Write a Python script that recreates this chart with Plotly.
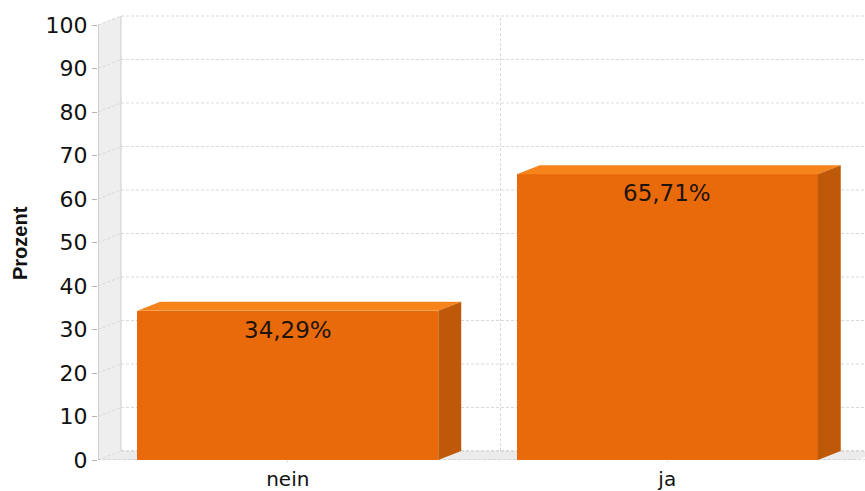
import plotly.graph_objects as go

# Survey result: share of answers per option (percent)
categories = ["nein", "ja"]
values = [34.29, 65.71]
value_labels = ["34,29%", "65,71%"]
y_ticks = [0, 10, 20, 30, 40, 50, 60, 70, 80, 90, 100]

# Pseudo-3D styling
FRONT = "#E96A0B"
TOP = "#F7831B"
SIDE = "#BE5908"
WALL = "#EEEEEE"
EDGE = "#B4B4B4"
GRID = "#D9D9D9"
DX = 0.0606      # depth offset along x (category units)
DY = 2.07        # depth offset along y (percent units)
BAR_W = 0.793
X_MIN, X_MAX = -0.5, 1.521
Y_MAX = 103.45

FONT = "DejaVu Sans"

fig = go.Figure()

shapes = []


def poly(pts, fill, layer):
    d = "M " + " L ".join(f"{x},{y}" for x, y in pts) + " Z"
    shapes.append(dict(type="path", path=d, xref="x", yref="y", fillcolor=fill,
                       line=dict(color=fill, width=0), layer=layer))


def seg(x0, y0, x1, y1, color, dash="solid", width=1, layer="below"):
    shapes.append(dict(type="line", x0=x0, y0=y0, x1=x1, y1=y1, xref="x", yref="y",
                       line=dict(color=color, width=width, dash=dash), layer=layer))


# left side wall and floor
poly([(X_MIN, 0), (X_MIN, y_ticks[-1]), (X_MIN + DX, y_ticks[-1] + DY), (X_MIN + DX, DY)], WALL, "below")
poly([(X_MIN, 0), (1.5, 0), (1.5 + DX, DY), (X_MIN + DX, DY)], "#ECECEC", "below")

# gridlines on the back wall and diagonal guides on the side wall
for v in y_ticks:
    seg(X_MIN + DX, v + DY, X_MAX + 0.1, v + DY, GRID, dash="3px,2px")
    seg(X_MIN, v, X_MIN + DX, v + DY, GRID, dash="3px,2px")
for k in range(1, len(categories)):
    seg(k - 0.5 + DX, DY, k - 0.5 + DX, y_ticks[-1] + DY, GRID, dash="3px,2px")

# wall edges
seg(X_MIN + DX, DY, X_MIN + DX, y_ticks[-1] + DY, "#CFCFCF")
seg(X_MIN, 0, X_MIN, y_ticks[-1], EDGE)
seg(X_MIN, 0, X_MAX + 0.1, 0, "#BDBDBD", dash="3px,2px")
seg(X_MIN + DX, DY, X_MAX + 0.1, DY, "#D0D0D0", dash="3px,2px")

# front faces of the bars
fig.add_trace(go.Bar(x=list(range(len(categories))), y=values, width=BAR_W,
                     marker=dict(color=FRONT, line=dict(width=0)), hoverinfo="skip"))

# top and side faces of the bars
for i, v in enumerate(values):
    l, r = i - BAR_W / 2, i + BAR_W / 2
    poly([(l, v), (r, v), (r + DX, v + DY), (l + DX, v + DY)], TOP, "above")
    poly([(r, 0), (r, v), (r + DX, v + DY), (r + DX, DY)], SIDE, "above")

annotations = []
for i, (v, t) in enumerate(zip(values, value_labels)):
    annotations.append(dict(x=i, y=v, text=t, showarrow=False, xref="x", yref="y",
                            yanchor="middle", yshift=-19,
                            font=dict(family=FONT, size=23, color="#1E140C")))

# rotated axis title
annotations.append(dict(xref="paper", yref="paper",
                        x=(20 - 98) / (865 - 98), y=(460 - 243) / (460 - 10),
                        text="<b>Prozent</b>", showarrow=False, textangle=-90,
                        xanchor="center", yanchor="middle",
                        font=dict(family="Liberation Sans", size=20, color="#111111")))

fig.update_layout(
    width=865, height=491,
    margin=dict(l=98, r=0, t=10, b=31, autoexpand=False),
    paper_bgcolor="white", plot_bgcolor="white",
    showlegend=False,
    shapes=shapes,
    annotations=annotations,
    bargap=0,
    xaxis=dict(range=[X_MIN, X_MAX], tickvals=list(range(len(categories))), ticktext=categories,
               showgrid=False, zeroline=False, showline=False, automargin=False,
               ticks="outside", ticklen=1, tickcolor="#C8C8C8",
               tickfont=dict(family=FONT, size=20, color="#111111")),
    yaxis=dict(range=[0, Y_MAX], tickvals=y_ticks, showgrid=False, zeroline=False, showline=False,
               automargin=False,
               ticks="outside", ticklen=5, tickcolor="#B4B4B4",
               tickfont=dict(family=FONT, size=22, color="#111111")),
)

fig.write_html("out.html")
